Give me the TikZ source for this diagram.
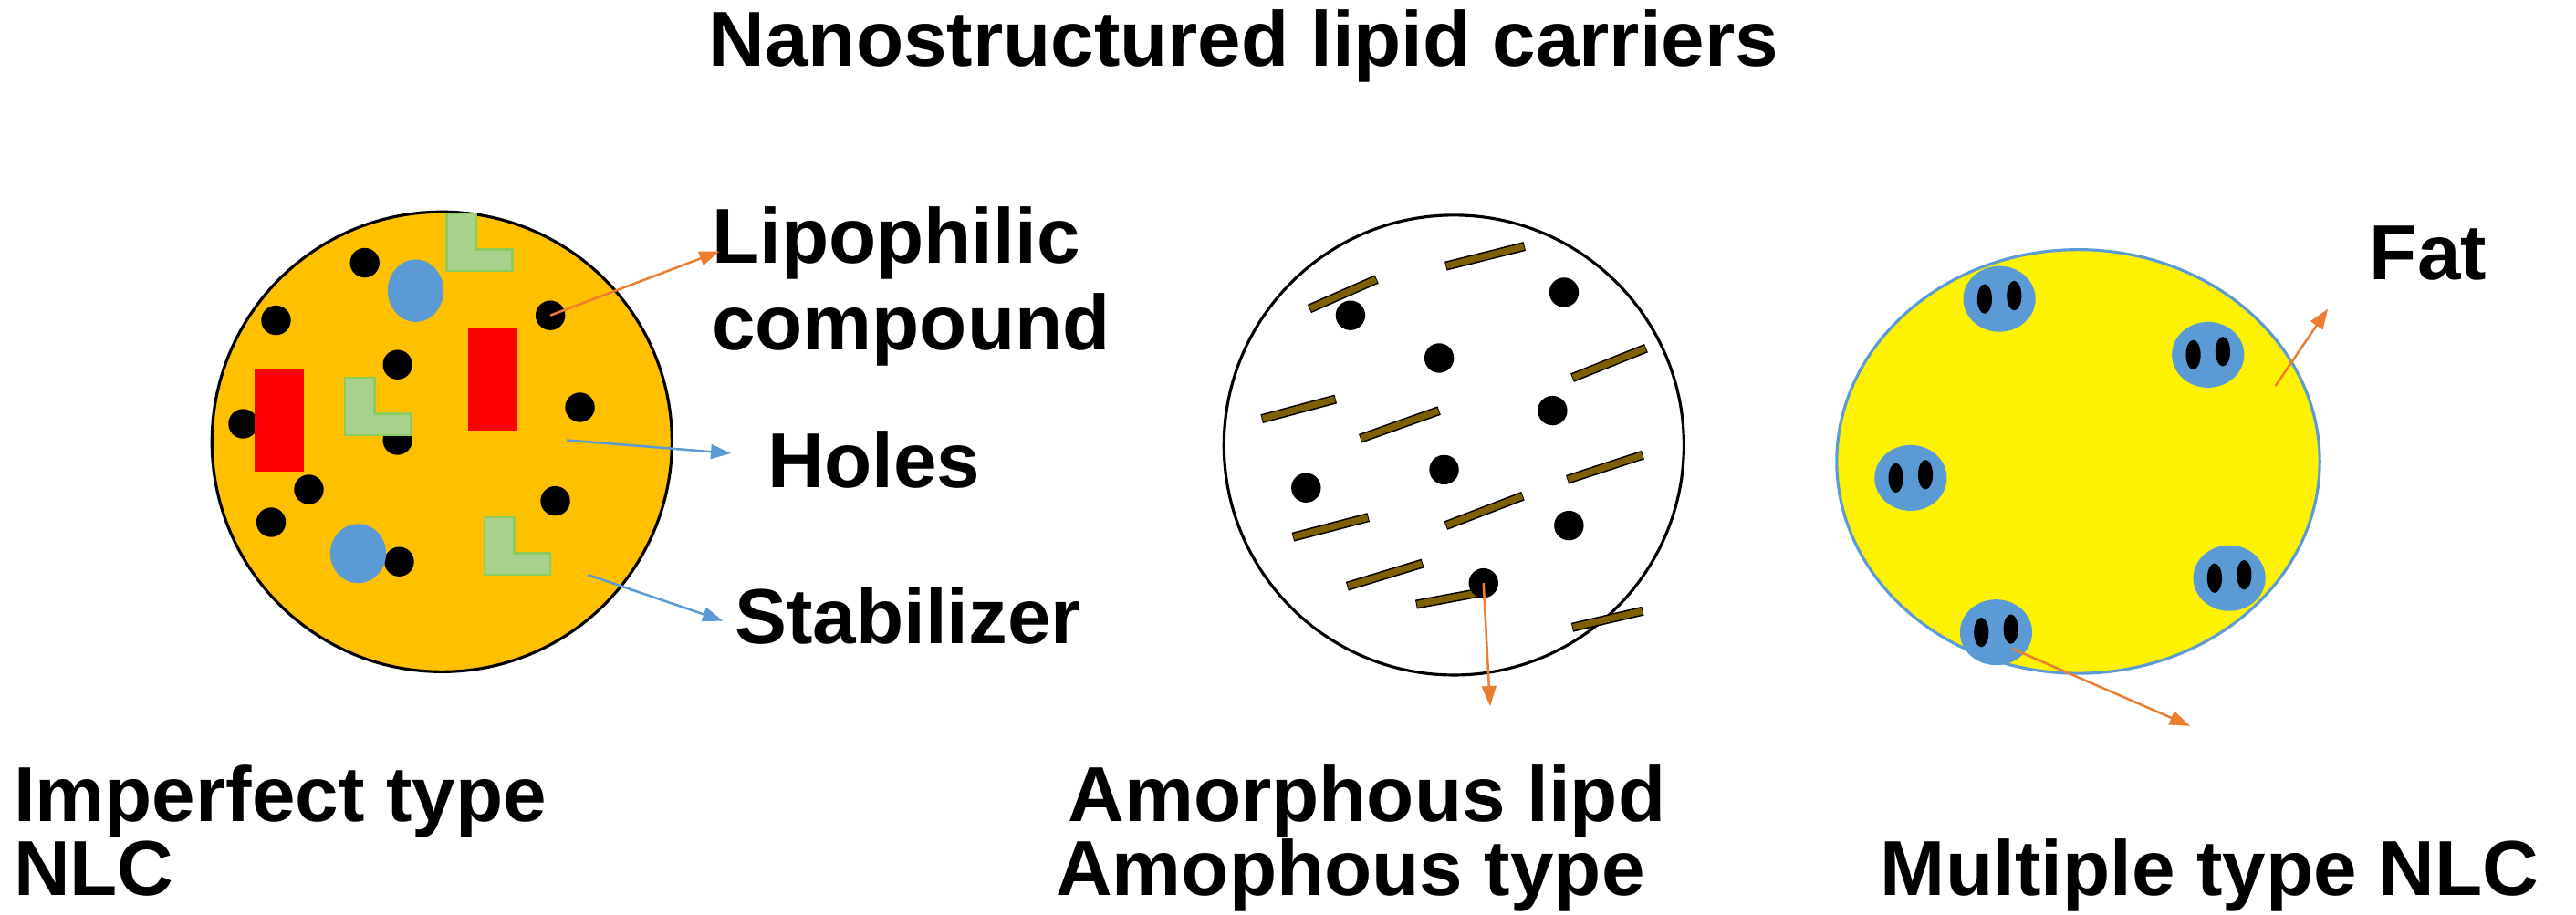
\documentclass[tikz,border=0pt]{standalone}
\usepackage{fontspec}
\setmainfont{Liberation Sans}
\usetikzlibrary{arrows.meta}
\definecolor{gold}{HTML}{FFC000}
\definecolor{hole}{HTML}{5B9BD5}
\definecolor{stab}{HTML}{A9D18E}
\definecolor{stabb}{HTML}{8CCB5E}
\definecolor{brn}{HTML}{7F6000}
\definecolor{oarr}{HTML}{ED7D31}
\tikzset{
 lbl/.style={font=\bfseries\fontsize{27}{32}\selectfont, inner sep=0pt},
 dot/.style={fill=black},
 oar/.style={draw=oarr, line width=0.8pt, -{Triangle[length=7pt,width=5pt]}},
 bar/.style={-{Triangle[length=7pt,width=5pt]}, draw=hole, line width=0.8pt},
}
\begin{document}
\begin{tikzpicture}[x=0.02cm,y=-0.02cm]
\useasboundingbox (0,0) rectangle (1568,557);
\node[lbl, anchor=base] (title) at (757,40) {Nanostructured lipid carriers};
% circle 1
\node[circle, draw=black, line width=1pt, fill=gold, minimum size=280*0.02cm, inner sep=0] (c1) at (269,269) {};
\foreach \x/\y in {222/160,168/195,242/222,353/248,148/258,242/268,188/298,338/305,165/318,243/342}
  \fill[dot] (\x,\y) circle (9);
\fill[dot] (335,192) coordinate (lp) circle (9);
\fill[hole] (253,177) ellipse (17 and 19);
\fill[hole] (218,337) ellipse (17 and 18);
\foreach \x/\y in {272/130,210/230,295/315}
  \draw[stabb, fill=stab, line width=0.8pt] (\x,\y) -- (\x+18,\y) -- (\x+18,\y+22) -- (\x+40,\y+22) -- (\x+40,\y+35) -- (\x,\y+35) -- cycle;
\fill[red] (155,225) rectangle (185,287);
\fill[red] (285,200) rectangle (315,262);
\coordinate (h1) at (345,268);
\coordinate (s1) at (358,350);
\node[lbl, anchor=base west] (lip) at (433,160) {Lipophilic};
\node[lbl, anchor=base west] (comp) at (433,213) {compound};
\node[lbl, anchor=base west] (holes) at (467,297) {Holes};
\node[lbl, anchor=base west] (stabl) at (447,392) {Stabilizer};
\draw[oar] (lp) -- (438,153);
\draw[bar] (h1) -- (445,276);
\draw[bar] (s1) -- (440,378);
\node[lbl, anchor=base west] (imp) at (8,500) {Imperfect type};
\node[lbl, anchor=base west] (nlc) at (8,545) {NLC};
% circle 2
\node[circle, draw=black, line width=1pt, fill=white, minimum size=280*0.02cm, inner sep=0] (c2) at (885,271) {};
\foreach \a/\b/\c/\d in {797/188/838/170, 880/162/928/150, 768/255/813/243, 828/267/876/250, 957/230/1002/212, 954/292/1000/277, 787/327/833/315, 880/320/927/302, 820/357/866/343, 862/368/905/360, 957/382/1000/372}
  \draw[line width=3.2pt, black] (\a,\b) -- (\c,\d);
\foreach \a/\b/\c/\d in {797/188/838/170, 880/162/928/150, 768/255/813/243, 828/267/876/250, 957/230/1002/212, 954/292/1000/277, 787/327/833/315, 880/320/927/302, 820/357/866/343, 862/368/905/360, 957/382/1000/372}
  \draw[line width=2.2pt, brn, shorten >=0.3pt, shorten <=0.3pt] (\a,\b) -- (\c,\d);
\foreach \x/\y in {822/192,876/218,952/178,945/250,795/297,879/286,955/320}
  \fill[dot] (\x,\y) circle (9);
\fill[dot] (903,355) coordinate (am) circle (9);
\draw[oar] (am) -- (907,430);
\node[lbl, anchor=base] (aml) at (832,500) {Amorphous lipd};
\node[lbl, anchor=base] (amt) at (822,545) {Amophous type};
% circle 3
\draw[hole, line width=1pt, fill=yellow] (1265,281) ellipse (147 and 129);
\foreach \x/\y in {1217/182,1344/216,1163/291,1357/352,1215/385}{
  \fill[hole] (\x,\y) ellipse (22 and 20);
  \fill[black] (\x-9,\y) ellipse (4.5 and 9);
  \fill[black] (\x+9,\y-2) ellipse (4.5 and 9);
}
\coordinate (f1) at (1385,235);
\coordinate (f2) at (1225,395);
\draw[oar] (f1) -- (1417,188);
\draw[oar] (f2) -- (1333,442);
\node[lbl, anchor=base west] (fat) at (1442,170) {Fat};
\node[lbl, anchor=base] (mult) at (1345,545) {Multiple type NLC};
\end{tikzpicture}
\end{document}
